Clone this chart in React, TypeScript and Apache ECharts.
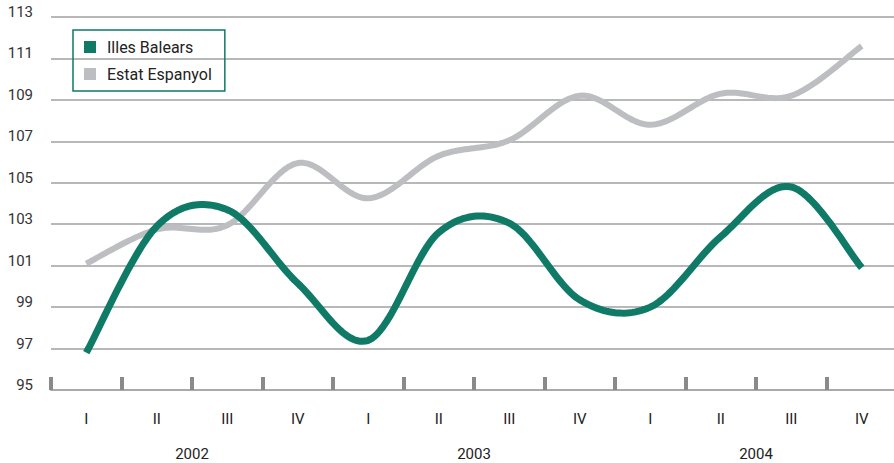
import React, { useEffect, useRef } from "react";
import * as echarts from "echarts";

const quarters = ["I", "II", "III", "IV", "I", "II", "III", "IV", "I", "II", "III", "IV"];
const years = ["2002", "2003", "2004"];
const illesBalears = [96.8, 102.9, 103.7, 100.15, 97.4, 102.6, 103.05, 99.35, 99.0, 102.4, 104.8, 100.9];
const estatEspanyol = [101.1, 102.75, 102.95, 105.95, 104.25, 106.3, 107.05, 109.2, 107.8, 109.3, 109.2, 111.6];

const FONT = "'Liberation Sans Narrow', 'Roboto', sans-serif";

function splineSeries(name: string, values: number[], color: string, width: number, z: number) {
  return {
    name,
    type: "custom",
    coordinateSystem: "cartesian2d",
    xAxisIndex: 0,
    yAxisIndex: 0,
    z,
    itemStyle: { color },
    data: values.map((v, i) => [i, v]),
    encode: { x: 0, y: 1 },
    clip: false,
    renderItem: (params: any, api: any) => {
      if (params.dataIndex !== 0) return null;
      const pts: number[][] = values.map((v, i) => api.coord([i, v]));
      const out: number[][] = [];
      const steps = 24;
      for (let i = 0; i < pts.length - 1; i++) {
        const p0 = pts[i - 1] || pts[i];
        const p1 = pts[i];
        const p2 = pts[i + 1];
        const p3 = pts[i + 2] || pts[i + 1];
        const c1 = [p1[0] + (p2[0] - p0[0]) / 6, p1[1] + (p2[1] - p0[1]) / 6];
        const c2 = [p2[0] - (p3[0] - p1[0]) / 6, p2[1] - (p3[1] - p1[1]) / 6];
        for (let s = i === 0 ? 0 : 1; s <= steps; s++) {
          const t = s / steps;
          const u = 1 - t;
          const a = u * u * u, b = 3 * u * u * t, c = 3 * u * t * t, d = t * t * t;
          out.push([
            a * p1[0] + b * c1[0] + c * c2[0] + d * p2[0],
            a * p1[1] + b * c1[1] + c * c2[1] + d * p2[1],
          ]);
        }
      }
      return {
        type: "polyline",
        shape: { points: out },
        style: { stroke: color, lineWidth: width, fill: "none", lineJoin: "round", lineCap: "butt" },
      };
    },
  };
}

export default function App() {
  const ref = useRef<HTMLDivElement>(null);
  useEffect(() => {
    document.body.style.margin = "0";
    const chart = echarts.init(ref.current!, undefined, { renderer: "svg" });
    chart.setOption({
      animation: false,
      backgroundColor: "#ffffff",
      grid: { left: 51, top: 17, width: 846, height: 373, containLabel: false, outerBoundsMode: "none" },
      legend: {
        orient: "vertical",
        left: 73,
        top: 30,
        padding: [9, 13, 9, 11],
        borderColor: "#0f7a66",
        borderWidth: 1.5,
        itemWidth: 12,
        itemHeight: 12,
        itemGap: 11,
        icon: "rect",
        data: ["Illes Balears", "Estat Espanyol"],
        textStyle: { fontFamily: FONT, fontSize: 16, color: "#222", padding: [0, 0, 0, 6] },
      },
      xAxis: [
        {
          type: "category",
          data: quarters,
          boundaryGap: true,
          axisLine: { show: true, lineStyle: { color: "#aaaaaa", width: 2 } },
          axisTick: { show: true, inside: true, length: 13, lineStyle: { color: "#8a8a8a", width: 4 } },
          axisLabel: { margin: 21, fontFamily: FONT, fontSize: 15, color: "#222" },
          splitLine: { show: false },
        },
        {
          type: "category",
          data: years,
          position: "bottom",
          boundaryGap: true,
          axisLine: { show: false },
          axisTick: { show: false },
          axisLabel: { margin: 56, fontFamily: FONT, fontSize: 15, color: "#222" },
          splitLine: { show: false },
        },
      ],
      yAxis: {
        type: "value",
        min: 95,
        max: 113,
        interval: 2,
        axisLine: { show: false },
        axisTick: { show: false },
        axisLabel: {
          margin: 18,
          fontFamily: FONT,
          fontSize: 15,
          color: "#333",
          verticalAlign: "bottom",
          lineHeight: 10,
        },
        splitLine: { show: true, lineStyle: { color: "#a0a0a0", width: 1.5 } },
      },
      series: [
        splineSeries("Estat Espanyol", estatEspanyol, "#bdbec2", 6, 2),
        splineSeries("Illes Balears", illesBalears, "#0f7a66", 7, 3),
      ],
    });
    return () => chart.dispose();
  }, []);
  return <div ref={ref} style={{ width: 894, height: 463 }} />;
}
